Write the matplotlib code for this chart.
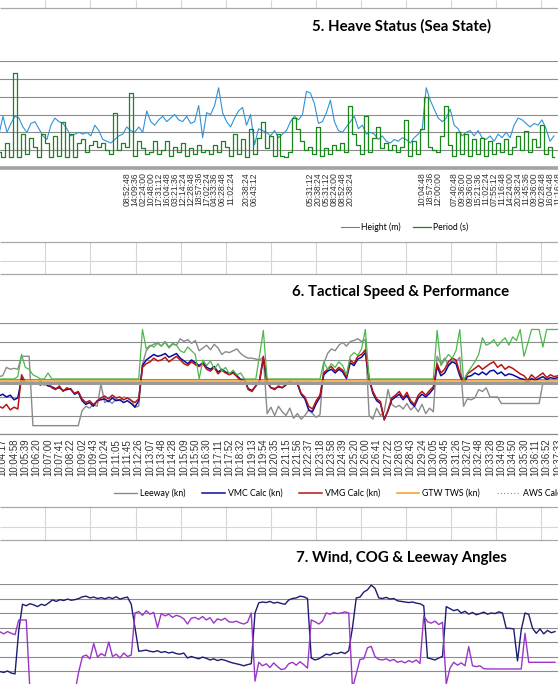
import numpy as np
import matplotlib
matplotlib.use("Agg")
import matplotlib.pyplot as plt
from matplotlib.lines import Line2D

W, H = 558, 684

# ---------------- 5. Heave Status (Sea State) ----------------
heave_height_m = [
    1.9, 2.9, 2.0, 2.5, 2.9, 2.8, 2.3, 2.0, 2.5, 2.6, 2.2, 1.8, 1.6, 2.4, 2.8,
    2.6, 2.5, 2.2, 1.8, 1.9, 2.0, 1.9, 2.0, 1.8, 2.4, 2.1, 1.6, 1.5, 1.4, 1.6,
    1.8, 1.9, 2.3, 2.1, 2.0, 2.3, 2.0, 3.2, 2.6, 2.4, 2.7, 2.9, 2.6, 2.8, 3.0,
    2.7, 2.6, 2.9, 2.5, 2.6, 3.5, 1.7, 3.1, 3.0, 3.5, 4.5, 3.1, 2.6, 2.3, 2.8,
    3.2, 3.4, 2.4, 3.0, 1.3, 2.2, 2.1, 2.0, 1.8, 2.1,
    1.7, 1.9, 2.1, 2.6, 2.9, 2.7, 3.0, 4.3, 4.2, 3.6, 2.5, 2.6, 3.1, 3.8, 2.6,
    2.1, 2.0, 2.3, 2.6, 2.9, 2.2, 2.4, 1.9, 2.0, 1.9, 1.6, 1.8, 1.5, 1.4, 1.6,
    1.5, 1.7, 1.6, 1.4, 1.7, 1.9, 2.2, 4.5, 3.8, 3.3, 2.8, 2.6, 2.8, 3.3, 2.4,
    2.2, 1.8, 2.0, 2.1, 1.8, 2.1, 1.7, 1.6, 1.8, 1.5, 1.9, 1.7, 2.0, 1.7, 2.4,
    2.8, 2.7, 2.5, 2.3, 2.5, 2.4, 2.7, 2.2, 1.5, 1.8,
]
heave_period_s = [
    0.9, 0.6, 1.4, 0.6, 5.3, 0.6, 1.9, 0.8, 1.7, 1.2, 0.6, 1.9, 1.4, 0.6, 1.8,
    0.7, 2.6, 0.6, 1.9, 0.6, 1.4, 1.6, 0.9, 1.3, 1.5, 1.2, 1.4, 1.0, 0.8, 3.1,
    1.0, 1.4, 1.2, 4.2, 0.7, 1.5, 1.1, 0.8, 0.9, 1.5, 0.8, 1.0, 1.5, 0.7, 1.2,
    0.9, 1.4, 0.7, 1.1, 0.8, 1.3, 0.9, 1.0, 0.8, 1.3, 0.9, 1.5, 1.2, 0.7, 1.9,
    0.8, 1.6, 0.6, 2.2, 0.8, 1.7, 2.6, 1.1, 1.8, 0.7,
    1.9, 0.7, 0.6, 0.9, 2.8, 2.2, 1.5, 1.0, 1.2, 0.8, 2.3, 0.7, 1.1, 0.8, 1.3,
    1.0, 1.4, 0.9, 3.5, 1.9, 1.3, 0.8, 2.9, 0.9, 1.7, 2.3, 1.1, 1.4, 1.0, 1.3,
    0.9, 1.2, 2.7, 0.7, 1.5, 0.8, 2.2, 4.0, 1.2, 1.0, 0.9, 1.8, 3.5, 1.3, 0.7,
    2.0, 0.8, 1.9, 0.7, 1.6, 0.8, 1.7, 0.7, 1.5, 0.8, 1.4, 0.9, 1.6, 0.8, 1.2,
    1.8, 1.0, 2.1, 0.9, 1.6, 1.2, 2.4, 0.8, 1.2, 0.6,
]
heave_tick_pos = [32, 34, 36, 38, 40, 42, 44, 46, 48, 50, 52, 54, 56, 58,
                  62, 64,
                  78, 80, 82, 84, 86, 88,
                  106, 108, 110,
                  114, 116, 118, 120, 122, 124, 126, 128, 130, 132, 134, 136, 138, 140]
heave_tick_lbl = ["08:52:48", "14:09:36", "02:24:00", "10:48:00", "17:31:12", "16:04:48",
                  "03:21:36", "12:14:24", "12:28:48", "18:57:36", "17:02:24", "04:33:36",
                  "06:28:48", "11:02:24",
                  "20:38:24", "06:43:12",
                  "05:31:12", "20:38:24", "05:31:12", "08:24:00", "08:52:48", "20:38:24",
                  "10:04:48", "18:57:36", "12:00:00",
                  "07:40:48", "09:36:00", "09:36:00", "15:21:36", "11:02:24", "07:55:12",
                  "11:16:48", "14:24:00", "20:38:24", "11:45:36", "09:36:00", "00:28:48",
                  "16:04:48", "11:16:48"]

# ---------------- 6. Tactical Speed & Performance ----------------
speed_tick_lbl = ["10:04:17", "10:04:58", "10:05:39", "10:06:20", "10:07:00", "10:07:41",
                  "10:08:22", "10:09:02", "10:09:43", "10:10:24", "10:11:05", "10:11:45",
                  "10:12:26", "10:13:07", "10:13:48", "10:14:28", "10:15:09", "10:15:50",
                  "10:16:30", "10:17:11", "10:17:52", "10:18:32", "10:19:13", "10:19:54",
                  "10:20:35", "10:21:15", "10:21:56", "10:22:37", "10:23:18", "10:23:58",
                  "10:24:39", "10:25:20", "10:26:00", "10:26:41", "10:27:22", "10:28:03",
                  "10:28:43", "10:29:24", "10:30:05", "10:30:45", "10:31:26", "10:32:07",
                  "10:32:48", "10:33:28", "10:34:09", "10:34:50", "10:35:30", "10:36:11",
                  "10:36:52", "10:37:33"]
leeway_kn = [
    6.2, 6.3, 7.2, 7.0, 7.1, 7.0, 8.4, 8.4, 8.4, 0.9, 0.9, 0.9, 0.9, 0.9, 0.9,
    0.9, 0.9, 0.9, 0.9, 0.9, 0.9, 0.9, 2.5, 3.0, 2.8, 3.2, 3.0, 5.4, 3.4, 3.6,
    3.3, 3.8, 3.6, 4.0, 3.9, 3.7, 2.9, 3.0, 7.5, 9.0, 9.5, 9.7, 9.9, 9.5, 10.0,
    9.4, 9.8, 9.6, 10.3, 10.0, 10.2, 9.8, 10.1, 9.0, 9.3, 9.6, 9.1, 9.7, 9.3, 8.6,
    8.9, 8.8, 9.0, 9.2, 8.7, 8.4, 8.2, 8.2, 8.1, 8.0, 8.3, 2.2, 2.9, 2.0,
    3.0, 2.4, 2.0, 2.8, 1.7, 2.2, 1.6, 2.0, 2.6, 2.2, 1.8, 2.1, 7.6, 8.7, 9.2,
    9.0, 9.6, 9.9, 9.5, 10.0, 10.1, 10.3, 10.0, 10.2, 2.0, 1.6, 2.8, 2.0, 2.4, 4.8,
    3.2, 2.9, 3.1, 2.7, 3.3, 2.6, 3.0, 2.4, 3.2, 2.2, 2.8, 2.4, 8.4, 7.6, 8.2,
    7.4, 8.0, 7.8, 8.3, 3.0, 3.8, 3.7, 3.9, 4.8, 4.6, 5.0, 4.0, 4.0, 4.0, 3.3,
    3.3, 3.3, 3.3, 3.3, 3.3, 3.3, 3.3, 3.3, 3.3, 3.3, 5.5, 5.5, 5.5, 5.5, 5.5,
]
vmc_kn = [
    4.1, 4.3, 4.0, 4.2, 3.7, 3.9, 6.0, 5.4, 5.5, 5.4, 5.5, 5.3, 5.5, 5.2, 5.1,
    4.9, 5.0, 4.7, 4.8, 4.9, 4.3, 4.5, 3.6, 3.2, 3.4, 3.0, 3.6, 3.7, 3.8, 3.5,
    3.9, 3.6, 3.7, 3.4, 3.6, 3.3, 2.9, 3.6, 7.4, 8.0, 8.3, 8.6, 8.4, 8.5, 8.7,
    8.3, 8.5, 8.7, 8.2, 7.9, 7.6, 8.0, 7.7, 7.4, 7.7, 7.2, 7.0, 7.3, 6.7, 7.0,
    6.7, 6.5, 6.7, 6.3, 5.9, 5.9, 4.9, 4.7, 5.2, 5.7, 8.2, 5.6, 5.0, 4.9,
    5.1, 5.0, 5.3, 5.6, 5.5, 5.4, 4.3, 3.8, 2.6, 2.4, 3.3, 4.0, 6.4, 6.8, 7.0,
    6.6, 7.0, 6.7, 6.0, 7.7, 7.4, 8.1, 8.3, 8.8, 5.9, 4.4, 3.6, 3.3, 1.6, 2.5,
    3.7, 4.0, 4.3, 3.7, 4.2, 3.4, 3.0, 3.9, 4.3, 4.0, 4.4, 4.9, 7.3, 6.3, 6.6,
    7.4, 7.8, 7.6, 6.3, 5.4, 6.2, 6.3, 6.6, 6.4, 6.7, 6.4, 6.8, 6.9, 6.5, 6.7,
    6.3, 6.5, 6.4, 6.2, 6.0, 5.9, 5.6, 6.0, 5.8, 6.0, 6.2, 5.9, 6.1, 6.0, 6.1,
]
vmg_kn = [
    3.0, 2.8, 3.2, 2.6, 2.9, 2.7, 6.4, 5.6, 5.4, 5.6, 5.4, 5.7, 5.3, 5.6, 5.0,
    4.8, 5.2, 4.6, 5.0, 4.8, 4.4, 4.6, 3.8, 3.4, 3.6, 3.2, 3.5, 3.9, 4.1, 3.8,
    4.2, 3.9, 4.0, 3.7, 3.9, 3.6, 3.4, 3.8, 7.2, 7.6, 7.8, 8.2, 7.9, 8.0, 8.3,
    7.8, 8.1, 8.4, 8.0, 7.6, 7.4, 7.8, 7.5, 7.3, 7.6, 7.0, 6.8, 7.2, 6.5, 6.9,
    6.6, 6.4, 6.6, 6.2, 5.8, 5.9, 4.8, 4.6, 5.2, 5.8, 8.4, 5.6, 5.0, 4.8,
    5.2, 5.0, 5.4, 5.7, 5.5, 5.6, 4.4, 4.0, 3.0, 2.7, 3.6, 4.2, 6.6, 7.0, 7.3,
    6.8, 7.2, 6.9, 6.2, 8.0, 7.6, 8.4, 8.6, 9.1, 6.0, 4.6, 3.8, 3.5, 1.5, 2.6,
    3.9, 4.2, 4.6, 3.9, 4.5, 3.6, 3.2, 4.2, 4.6, 4.2, 4.7, 5.1, 7.6, 6.6, 7.0,
    7.8, 8.2, 8.0, 6.6, 5.7, 6.5, 6.8, 7.1, 7.4, 7.0, 7.3, 7.6, 7.8, 7.2, 7.5,
    7.0, 7.3, 7.1, 6.8, 6.5, 6.3, 5.8, 6.4, 6.0, 6.3, 6.6, 6.1, 6.4, 6.2, 6.3,
]
# green series, its legend entry lies beyond the right edge of the crop
stw_kn = [
    5.95, 5.95, 5.95, 5.95, 5.95, 6.2, 8.6, 7.2, 7.0, 6.4, 6.2, 5.95, 5.95, 6.6, 5.95,
    5.95, 5.95, 5.95, 5.95, 5.95, 5.95, 5.95, 5.95, 5.95, 5.95, 5.95, 5.95, 5.95, 5.95, 5.95,
    5.95, 5.95, 5.95, 5.95, 5.95, 5.95, 5.95, 5.95, 11.3, 9.2, 9.6, 9.4, 9.8, 9.5, 9.9,
    9.3, 9.7, 9.6, 9.0, 8.8, 9.4, 9.0, 8.6, 5.95, 8.0, 7.4, 7.9, 7.0, 7.6, 6.8,
    7.2, 6.5, 6.9, 6.4, 6.6, 5.95, 5.95, 5.95, 5.95, 8.5, 11.2, 5.95, 5.95, 5.95,
    5.95, 5.95, 5.95, 5.95, 5.95, 5.95, 5.95, 5.95, 5.95, 5.95, 5.95, 5.95, 7.8, 7.0, 7.6,
    7.2, 7.8, 7.4, 6.4, 8.4, 8.8, 8.5, 9.2, 11.3, 5.95, 5.95, 5.95, 5.95, 5.95, 5.95,
    5.95, 5.95, 5.95, 5.95, 5.95, 5.95, 5.95, 5.95, 5.95, 5.95, 5.95, 5.95, 11.2, 7.4, 8.0,
    8.6, 8.2, 9.0, 11.3, 5.8, 6.6, 7.2, 7.8, 8.6, 10.4, 9.6, 9.8, 10.2, 9.5, 10.0,
    10.4, 9.6, 10.5, 10.1, 11.3, 8.4, 9.8, 11.3, 11.3, 11.3, 9.4, 11.3, 11.3, 11.3, 11.3,
]
tws_kn = 5.75
aws_kn = 5.55

# ---------------- 7. Wind, COG & Leeway Angles ----------------
wind_deg = [
    98, 95, 100, 93, 90, 240, 330, 325, 332, 328, 322, 330, 326, 335, 345,
    340, 346, 343, 348, 344, 346, 350, 356, 358, 352, 355, 350, 353, 349, 354,
    350, 356, 348, 352, 355, 330, 250, 168, 170, 172, 168, 166, 170, 164, 167,
    162, 165, 160, 158, 162, 145, 150, 146, 142, 148, 144, 138, 142, 136, 140,
    137, 132, 128, 125, 122, 118, 122, 125, 300, 335, 338, 336, 340, 334, 337,
    333, 330, 345, 350, 352, 358, 356, 350, 145, 138, 142, 150, 158, 155, 162,
    160, 165, 160, 170, 250, 352, 355, 372, 380, 396, 385, 352, 350, 354, 348,
    350, 342, 340, 338, 336, 338, 334, 332, 325, 145, 142, 138, 145, 150, 322,
    315, 308, 312, 300, 306, 296, 302, 294, 298, 303, 296, 300, 298, 304, 300,
    247, 247, 245, 135, 242, 300, 295, 248, 230, 245, 228, 240, 232, 236,
]
cog_deg = [
    235, 228, 236, 230, 225, 276, 276, 276, 30, 30, 30, 30, 30, 30, 30,
    30, 30, 30, 30, 30, 30, 98, 150, 155, 142, 195, 148, 160, 152, 200,
    150, 158, 145, 162, 150, 155, 300, 305, 292, 308, 296, 302, 250, 298, 290,
    296, 285, 292, 288, 280, 262, 282, 285, 278, 288, 276, 284, 265, 280, 275,
    282, 270, 268, 272, 266, 262, 268, 300, 65, 130, 118, 125, 112, 128, 115,
    105, 108, 125, 130, 120, 132, 122, 110, 276, 270, 262, 272, 300, 296, 302,
    298, 300, 304, 300, 40, 90, 140, 142, 180, 185, 150, 140, 138, 142, 135,
    140, 130, 134, 128, 136, 130, 138, 126, 290, 270, 265, 272, 260, 268, 55,
    110, 130, 120, 128, 118, 184, 118, 115, 118, 108, 107, 107, 107, 107, 107,
    107, 107, 107, 107, 107, 230, 130, 130, 130, 130, 130, 130, 130, 130,
]

GRID = "#8c8c8c"
CELL = "#d6d6d6"
FRAME = "#a8a8a8"
TITLE_FONT = ["Lato", "DejaVu Sans"]
LEG_FONT = ["Lato", "DejaVu Sans"]
TICK_FONT = ["Liberation Sans", "DejaVu Sans"]

fig = plt.figure(figsize=(W / 100, H / 100), dpi=100)
fig.patch.set_facecolor("white")

# spreadsheet cells between the charts
bg = fig.add_axes([0, 0, 1, 1])
bg.set_xlim(0, W)
bg.set_ylim(H, 0)
bg.axis("off")
col_x = 45.3 + 45.1 * np.arange(12)
for y0, y1 in [(0, 8), (242, 274), (507, 540)]:
    bg.vlines(col_x, y0, y1, color=CELL, lw=0.8)
bg.hlines([261, 527], 0, W, color=CELL, lw=0.8)
bg.hlines([8, 242, 274, 507, 540], 0, W, color=FRAME, lw=0.9)


def chart(y_top, y_bot, xlim, ylim, step):
    ax = fig.add_axes([0, 1 - y_bot / H, 1, (y_bot - y_top) / H])
    ax.set_facecolor("none")
    ax.set_xlim(*xlim)
    ax.set_ylim(*ylim)
    ax.set_yticks(np.arange(ylim[0], ylim[1] + step / 2, step))
    ax.yaxis.grid(True, color=GRID, lw=0.8)
    ax.set_axisbelow(True)
    ax.tick_params(left=False, labelleft=False, length=0)
    for s in ("left", "right", "top"):
        ax.spines[s].set_visible(False)
    return ax


# ---- chart 5
ax5 = chart(61, 168, (0.25, 139.75), (0, 6), 1)
x5 = np.arange(len(heave_height_m))
h_line, = ax5.plot(x5, heave_height_m, color="#2e93d9", lw=0.8, label="Height (m)")
p_line, = ax5.plot(x5, heave_period_s, color="#17871a", lw=0.9,
                   drawstyle="steps-mid", label="Period (s)")
ax5.spines["bottom"].set_color("#a3a3a3")
ax5.spines["bottom"].set_linewidth(2.6)
ax5.set_xticks(heave_tick_pos)
ax5.set_xticklabels(heave_tick_lbl, rotation=90, fontsize=6.2, family=TICK_FONT, color="#333333")
ax5.tick_params(axis="x", length=0, pad=3)
fig.text(401 / W, 1 - 26 / H, "5. Heave Status (Sea State)", ha="center", va="center",
         fontsize=10.8, fontweight="bold", family=TITLE_FONT)
fig.legend(handles=[h_line, p_line], loc="center left", bbox_to_anchor=(341 / W, 1 - 227 / H),
           ncol=2, frameon=False, prop={"family": LEG_FONT, "size": 6.2},
           handlelength=2.1, handletextpad=0.25, columnspacing=1.4,
           borderpad=0, borderaxespad=0)

# ---- chart 6
ax6 = chart(323, 434, (0.288, 147.4), (0, 12), 2)
x6 = np.arange(len(vmg_kn))
l_lee, = ax6.plot(x6, leeway_kn, color="#8a8a8a", lw=1.0, label="Leeway (kn)")
l_vmc, = ax6.plot(x6, vmc_kn, color="#0a0aa0", lw=1.1, label="VMC Calc (kn)")
l_vmg, = ax6.plot(x6, vmg_kn, color="#b81414", lw=1.1, label="VMG Calc (kn)")
l_tws, = ax6.plot(x6, np.full(len(x6), tws_kn), color="#f2a735", lw=1.2, label="GTW TWS (kn)")
ax6.plot(x6, np.full(len(x6), aws_kn), color="#9a9a9a", lw=2.2)
ax6.plot(x6, stw_kn, color="#4cb84c", lw=0.9)
ax6.spines["bottom"].set_color("#8c8c8c")
ax6.spines["bottom"].set_linewidth(0.9)
ax6.set_xticks(np.arange(len(speed_tick_lbl)) * 3 + 1)
ax6.set_xticklabels(speed_tick_lbl, rotation=90, fontsize=7.0, family=TICK_FONT, color="#333333")
ax6.tick_params(axis="x", length=0, pad=3.5)
fig.text(401 / W, 1 - 292 / H, "6. Tactical Speed & Performance", ha="center", va="center",
         fontsize=10.8, fontweight="bold", family=TITLE_FONT)
aws_proxy = Line2D([], [], color="#8a8a8a", lw=0.8, ls=(0, (1, 2)), label="AWS Calc (kn)")
fig.legend(handles=[l_lee, l_vmc, l_vmg, l_tws, aws_proxy], loc="center left",
           bbox_to_anchor=(114 / W, 1 - 493 / H), ncol=5, frameon=False,
           prop={"family": LEG_FONT, "size": 6.3},
           handlelength=2.6, handletextpad=0.35, columnspacing=1.9,
           borderpad=0, borderaxespad=0)

# ---- chart 7
ax7 = chart(584, 700, (0, 148.8), (0, 400), 50)
x7 = np.arange(len(wind_deg))
ax7.plot(x7, wind_deg, color="#1c1c72", lw=1.0)
ax7.plot(x7, cog_deg, color="#9b36c9", lw=1.0)
ax7.spines["bottom"].set_visible(False)
ax7.tick_params(bottom=False, labelbottom=False)
fig.text(401 / W, 1 - 558 / H, "7. Wind, COG & Leeway Angles", ha="center", va="center",
         fontsize=10.8, fontweight="bold", family=TITLE_FONT)

fig.savefig("out.png", dpi=100)
